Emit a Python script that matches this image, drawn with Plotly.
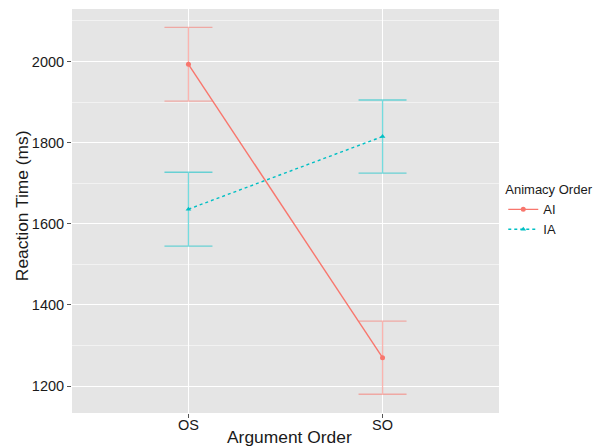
import plotly.graph_objects as go

# Data
argument_order = ["OS", "SO"]
ai_mean = [1993, 1270]
ai_err = [91, 90]
ia_mean = [1636, 1815]
ia_err = [91, 90]
y_ticks = [1200, 1400, 1600, 1800, 2000]

RED = "#F8766D"
TEAL = "#00BFC4"
FONT = "Liberation Sans, Arial, sans-serif"
TXT = "#1a1a1a"

fig = go.Figure()
fig.add_trace(go.Scatter(
    x=argument_order, y=ai_mean, name="AI", mode="lines+markers",
    line=dict(color=RED, width=1.4),
    marker=dict(symbol="circle", size=5, color=RED),
    error_y=dict(type="data", array=ai_err, visible=True,
                 color="rgba(248,118,109,0.55)", thickness=1.3, width=24),
))
fig.add_trace(go.Scatter(
    x=argument_order, y=ia_mean, name="IA", mode="lines+markers",
    line=dict(color=TEAL, width=1.4, dash="dot"),
    marker=dict(symbol="triangle-up", size=5, color=TEAL),
    error_y=dict(type="data", array=ia_err, visible=True,
                 color="rgba(0,191,196,0.55)", thickness=1.3, width=24),
))

fig.update_layout(
    width=598, height=447,
    margin=dict(l=72, r=99, t=9, b=34, autoexpand=False),
    paper_bgcolor="white", plot_bgcolor="#E5E5E5",
    font=dict(family=FONT, color=TXT, size=14.5),
    showlegend=True,
    legend=dict(
        title=dict(text="Animacy Order", font=dict(size=13, color=TXT)),
        font=dict(size=13, color=TXT),
        x=1.01, xanchor="left", y=0.5, yanchor="middle",
        bgcolor="rgba(0,0,0,0)", itemwidth=30, tracegroupgap=0,
    ),
    xaxis=dict(
        type="category", range=[-0.6, 1.6], automargin=False,
        showgrid=True, gridcolor="white", gridwidth=1.1,
        zeroline=False, showline=False,
        ticks="outside", ticklen=4, tickcolor="#555", tickwidth=1,
        ticklabelstandoff=-5,
        tickfont=dict(size=14.5, color=TXT),
    ),
    yaxis=dict(
        range=[1133.75, 2129.25], automargin=False,
        tickvals=y_ticks,
        showgrid=True, gridcolor="white", gridwidth=1.1,
        minor=dict(dtick=100, tick0=1100, showgrid=True, gridcolor="#F2F2F2", gridwidth=0.6, ticks=""),
        zeroline=False, showline=False,
        ticks="outside", ticklen=4, tickcolor="#555", tickwidth=1,
        tickfont=dict(size=14.5, color=TXT),
    ),
    annotations=[
        dict(text="Argument Order", xref="paper", yref="paper", x=0.51, y=0,
             xanchor="center", yanchor="middle", yshift=-24, showarrow=False,
             font=dict(size=17.4, color=TXT)),
        dict(text="Reaction Time (ms)", xref="paper", yref="paper", x=0, y=0.512,
             xanchor="center", yanchor="middle", xshift=-50, textangle=-90,
             showarrow=False, font=dict(size=17.4, color=TXT)),
    ],
)

fig.write_html("out.html")
